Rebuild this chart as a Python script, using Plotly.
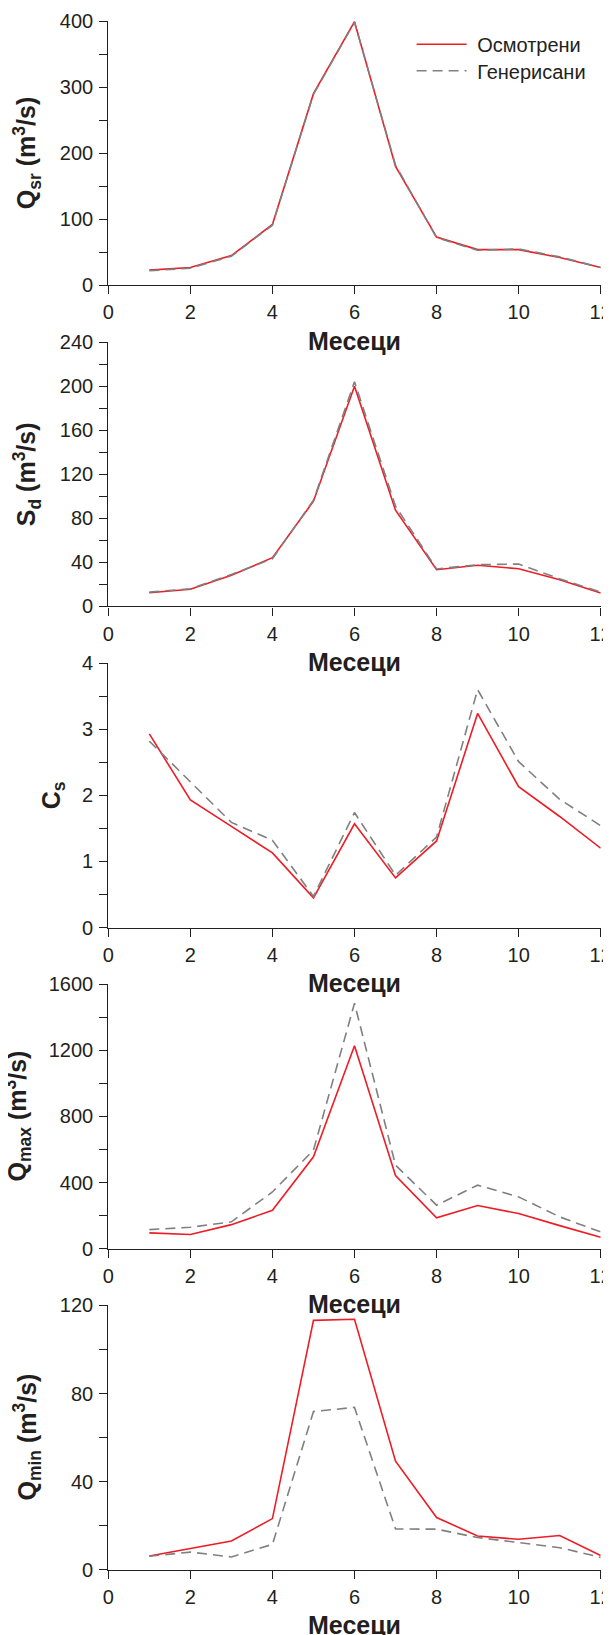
import plotly.graph_objects as go

months = [1, 2, 3, 4, 5, 6, 7, 8, 9, 10, 11, 12]

qsr_obs = [23, 27, 45, 92, 290, 399, 180, 73, 54, 54, 42, 27]
qsr_gen = [22, 26, 44, 91, 289, 398, 182, 72, 53, 55, 43, 27]

sd_obs = [12.4, 15.5, 28.2, 44.2, 95.5, 200, 87.3, 33.3, 37.3, 34.2, 24.2, 12.1]
sd_gen = [13, 16, 29, 43.3, 96.4, 204, 91, 34, 37.9, 38.5, 25, 13]

cs_obs = [2.93, 1.93, 1.53, 1.13, 0.45, 1.57, 0.75, 1.31, 3.24, 2.13, 1.68, 1.20]
cs_gen = [2.82, 2.21, 1.59, 1.32, 0.47, 1.74, 0.79, 1.37, 3.60, 2.51, 1.94, 1.54]

qmax_obs = [95, 85, 145, 232, 556, 1228, 442, 186, 261, 212, 139, 69]
qmax_gen = [115, 129, 162, 343, 596, 1485, 505, 263, 384, 313, 192, 101]

qmin_obs = [6.2, 9.6, 13.0, 23.2, 113.2, 113.7, 49.3, 23.7, 15.3, 13.8, 15.5, 6.4]
qmin_gen = [6.1, 8.0, 5.8, 11.5, 71.8, 73.7, 18.5, 18.4, 14.6, 12.3, 10.0, 5.6]

x_ticks = [0, 2, 4, 6, 8, 10, 12]
y_ranges = [(0, 400), (0, 240), (0, 4), (0, 1600), (0, 120)]
y_dticks = [100, 40, 1, 400, 40]
y_minor = [50, 20, 0.5, 200, 20]
y_titles = ["Q<sub>sr</sub> (m<sup>3</sup>/s)", "S<sub>d</sub> (m<sup>3</sup>/s)",
            "C<sub>s</sub>", "Q<sub>max</sub> (m<sup>3</sup>/s)", "Q<sub>min</sub> (m<sup>3</sup>/s)"]
x_title = "Месеци"
names = ["Осмотрени", "Генерисани"]

# the page body adds an 8px margin, so the figure itself is 8px smaller
W, H = 603, 1627
FONT = "Liberation Sans, Arial, sans-serif"
INK = "#231f20"
RED = "#ee1c25"
GRAY = "#808080"

obs_series = [qsr_obs, sd_obs, cs_obs, qmax_obs, qmin_obs]
gen_series = [qsr_gen, sd_gen, cs_gen, qmax_gen, qmin_gen]

fig = go.Figure()
x_left, x_right = 100.3, 592.7
title_x = [19, 19, 45, 10, 19]
leg_x = 403.6

layout = dict(
    template="none",
    width=W, height=H,
    margin=dict(l=0, r=0, t=0, b=0, pad=0),
    paper_bgcolor="white", plot_bgcolor="white",
    font=dict(family=FONT, size=20, color=INK),
    showlegend=True,
    legend=dict(x=leg_x / W, y=1 - 36.3 / H, xanchor="left", yanchor="middle",
                font=dict(family=FONT, size=20, color=INK),
                bgcolor="rgba(0,0,0,0)", itemwidth=50),
    legend2=dict(x=leg_x / W, y=1 - 62.8 / H, xanchor="left", yanchor="middle",
                 font=dict(family=FONT, size=20, color=INK),
                 bgcolor="rgba(0,0,0,0)", itemwidth=50),
)
annotations = []
for i in range(5):
    top = 13 + 321.1 * i
    bot = top + 264.3
    xa = "xaxis" if i == 0 else f"xaxis{i+1}"
    ya = "yaxis" if i == 0 else f"yaxis{i+1}"
    xs = "x" if i == 0 else f"x{i+1}"
    ys = "y" if i == 0 else f"y{i+1}"
    layout[xa] = dict(
        domain=[x_left / W, x_right / W], anchor=ys, range=[0, 12],
        tickvals=x_ticks, ticks="outside", ticklen=8, tickwidth=1.3,
        tickcolor=INK, showline=True, linecolor=INK, linewidth=1.3,
        showgrid=False, zeroline=False, tickfont=dict(size=20, color=INK),
        ticklabelstandoff=1, automargin=False, ticklabeloverflow="allow",
    )
    layout[ya] = dict(
        domain=[1 - bot / H, 1 - top / H], anchor=xs, range=list(y_ranges[i]),
        dtick=y_dticks[i], tick0=0, ticks="outside", ticklen=8, tickwidth=1.3,
        tickcolor=INK, showline=True, linecolor=INK, linewidth=1.3,
        showgrid=False, zeroline=False, tickfont=dict(size=20, color=INK),
        ticklabelstandoff=2, automargin=False,
        minor=dict(dtick=y_minor[i], tick0=0, ticks="outside", ticklen=8,
                   tickwidth=1.3, tickcolor=INK, showgrid=False),
    )
    fig.add_trace(go.Scatter(x=months, y=obs_series[i], mode="lines",
                             name="\u00a0" + names[0],
                             line=dict(color=RED, width=1.6), xaxis=xs, yaxis=ys,
                             showlegend=(i == 0), legend="legend"))
    fig.add_trace(go.Scatter(x=months, y=gen_series[i], mode="lines",
                             name="\u00a0" + names[1],
                             line=dict(color=GRAY, width=1.6, dash="10px,6px"),
                             xaxis=xs, yaxis=ys, showlegend=(i == 0), legend="legend2"))
    annotations.append(dict(
        text=y_titles[i], xref="paper", yref="paper", x=title_x[i] / W,
        y=1 - (top + bot) / 2 / H, xanchor="center", yanchor="middle",
        textangle=-90, showarrow=False,
        font=dict(family=FONT, size=25, color=INK, weight="bold"),
    ))
    annotations.append(dict(
        text=x_title, xref="paper", yref="paper", x=(x_left + x_right) / 2 / W,
        y=1 - (bot + 55.5) / H, xanchor="center", yanchor="middle",
        showarrow=False, font=dict(family=FONT, size=25, color=INK, weight="bold"),
    ))

layout["annotations"] = annotations
fig.update_layout(**layout)
fig.write_html("out.html")
